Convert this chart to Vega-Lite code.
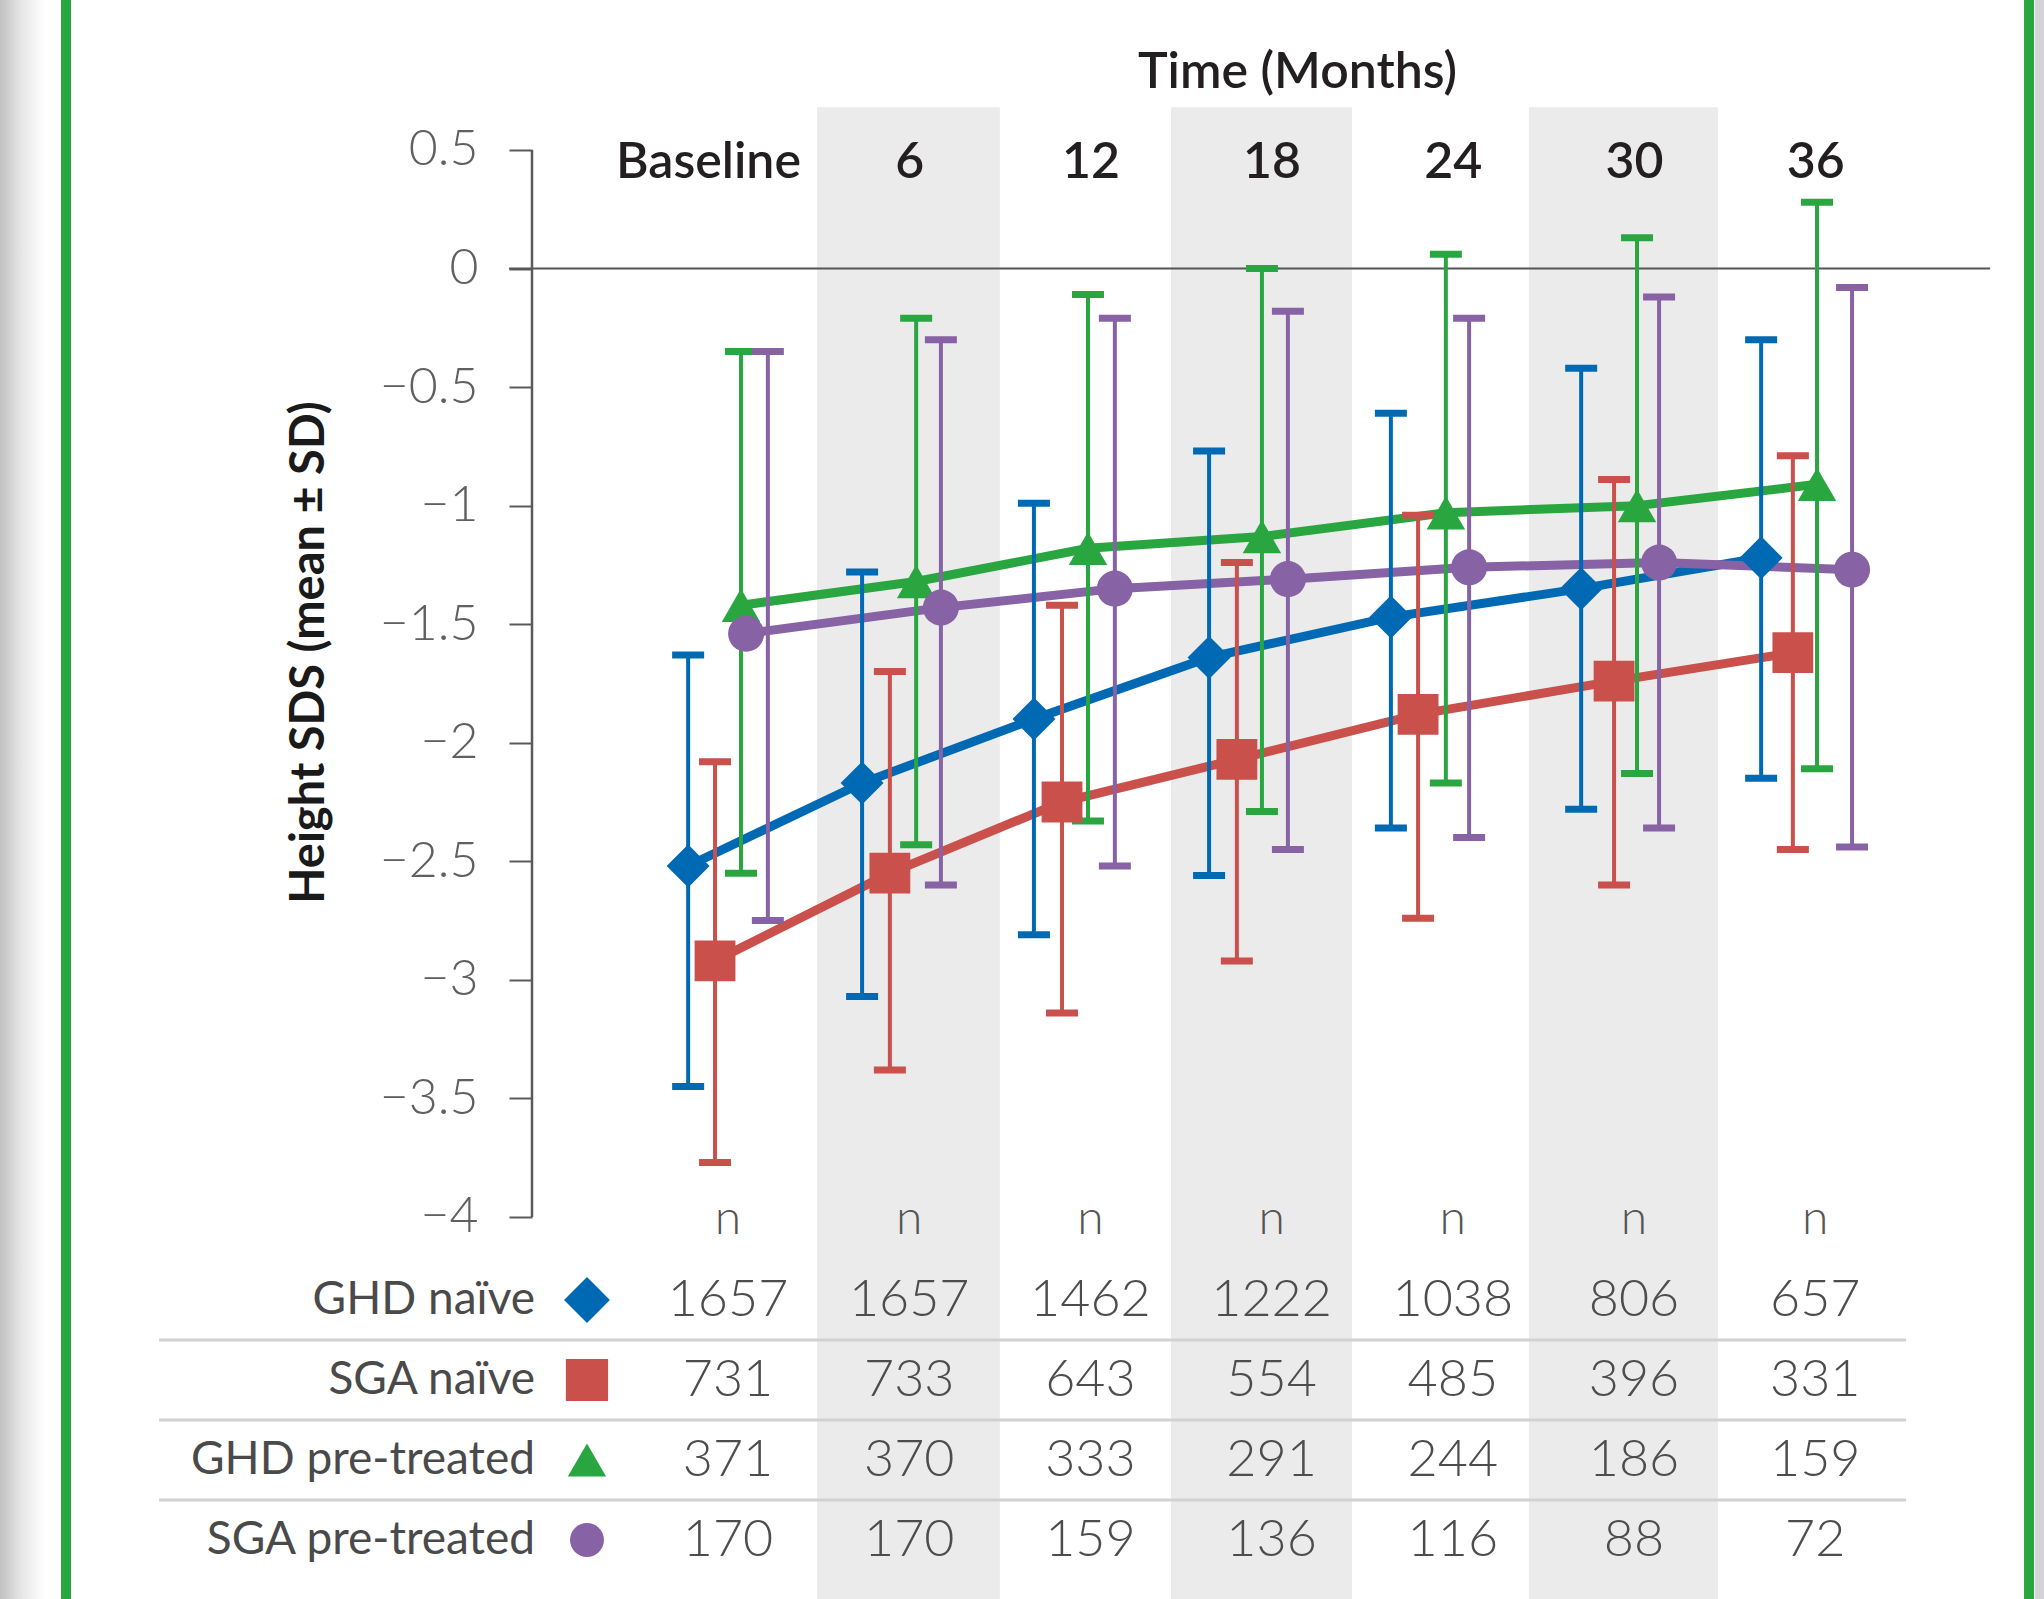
{
  "$schema": "https://vega.github.io/schema/vega-lite/v6.json",
  "width": 2044,
  "height": 1599,
  "autosize": "none",
  "padding": 0,
  "background": "#ffffff",
  "config": {"view": {"stroke": null}, "font": "Lato"},
  "datasets": {
    "series": [
      {"series": "GHD naïve", "month": 0, "t": -1.32, "tp": -1.32, "mean": -2.52, "lo": -3.45, "hi": -1.63},
      {"series": "GHD naïve", "month": 6, "t": 4.44, "tp": 4.44, "mean": -2.17, "lo": -3.07, "hi": -1.28},
      {"series": "GHD naïve", "month": 12, "t": 10.13, "tp": 10.13, "mean": -1.9, "lo": -2.81, "hi": -0.99},
      {"series": "GHD naïve", "month": 18, "t": 15.93, "tp": 15.93, "mean": -1.64, "lo": -2.56, "hi": -0.77},
      {"series": "GHD naïve", "month": 24, "t": 21.95, "tp": 21.95, "mean": -1.47, "lo": -2.36, "hi": -0.61},
      {"series": "GHD naïve", "month": 30, "t": 28.25, "tp": 28.25, "mean": -1.35, "lo": -2.28, "hi": -0.42},
      {"series": "GHD naïve", "month": 36, "t": 34.21, "tp": 34.21, "mean": -1.22, "lo": -2.15, "hi": -0.3},
      {"series": "SGA naïve", "month": 0, "t": -0.43, "tp": -0.43, "mean": -2.92, "lo": -3.77, "hi": -2.08},
      {"series": "SGA naïve", "month": 6, "t": 5.36, "tp": 5.36, "mean": -2.55, "lo": -3.38, "hi": -1.7},
      {"series": "SGA naïve", "month": 12, "t": 11.06, "tp": 11.06, "mean": -2.25, "lo": -3.14, "hi": -1.42},
      {"series": "SGA naïve", "month": 18, "t": 16.85, "tp": 16.85, "mean": -2.07, "lo": -2.92, "hi": -1.24},
      {"series": "SGA naïve", "month": 24, "t": 22.85, "tp": 22.85, "mean": -1.88, "lo": -2.74, "hi": -1.04},
      {"series": "SGA naïve", "month": 30, "t": 29.34, "tp": 29.34, "mean": -1.74, "lo": -2.6, "hi": -0.89},
      {"series": "SGA naïve", "month": 36, "t": 35.26, "tp": 35.26, "mean": -1.62, "lo": -2.45, "hi": -0.79},
      {"series": "GHD pre-treated", "month": 0, "t": 0.43, "tp": 0.43, "mean": -1.42, "lo": -2.55, "hi": -0.35},
      {"series": "GHD pre-treated", "month": 6, "t": 6.23, "tp": 6.23, "mean": -1.32, "lo": -2.43, "hi": -0.21},
      {"series": "GHD pre-treated", "month": 12, "t": 11.92, "tp": 11.92, "mean": -1.18, "lo": -2.33, "hi": -0.11},
      {"series": "GHD pre-treated", "month": 18, "t": 17.68, "tp": 17.68, "mean": -1.13, "lo": -2.29, "hi": 0.0},
      {"series": "GHD pre-treated", "month": 24, "t": 23.77, "tp": 23.77, "mean": -1.03, "lo": -2.17, "hi": 0.06},
      {"series": "GHD pre-treated", "month": 30, "t": 30.1, "tp": 30.1, "mean": -1.0, "lo": -2.13, "hi": 0.13},
      {"series": "GHD pre-treated", "month": 36, "t": 36.06, "tp": 36.06, "mean": -0.91, "lo": -2.11, "hi": 0.28},
      {"series": "SGA pre-treated", "month": 0, "t": 1.32, "tp": 0.6, "mean": -1.54, "lo": -2.75, "hi": -0.35},
      {"series": "SGA pre-treated", "month": 6, "t": 7.05, "tp": 7.05, "mean": -1.43, "lo": -2.6, "hi": -0.3},
      {"series": "SGA pre-treated", "month": 12, "t": 12.81, "tp": 12.81, "mean": -1.35, "lo": -2.52, "hi": -0.21},
      {"series": "SGA pre-treated", "month": 18, "t": 18.54, "tp": 18.54, "mean": -1.31, "lo": -2.45, "hi": -0.18},
      {"series": "SGA pre-treated", "month": 24, "t": 24.54, "tp": 24.54, "mean": -1.26, "lo": -2.4, "hi": -0.21},
      {"series": "SGA pre-treated", "month": 30, "t": 30.83, "tp": 30.83, "mean": -1.24, "lo": -2.36, "hi": -0.12},
      {"series": "SGA pre-treated", "month": 36, "t": 37.22, "tp": 37.22, "mean": -1.27, "lo": -2.44, "hi": -0.08}
    ],
    "bands": [
      {"month": 6, "t0": 2.95, "t1": 9.0},
      {"month": 18, "t0": 14.67, "t1": 20.66},
      {"month": 30, "t0": 26.52, "t1": 32.78}
    ],
    "counts": [
      {"series": "GHD naïve", "r": 1, "month": 0, "n": 1657},
      {"series": "GHD naïve", "r": 1, "month": 6, "n": 1657},
      {"series": "GHD naïve", "r": 1, "month": 12, "n": 1462},
      {"series": "GHD naïve", "r": 1, "month": 18, "n": 1222},
      {"series": "GHD naïve", "r": 1, "month": 24, "n": 1038},
      {"series": "GHD naïve", "r": 1, "month": 30, "n": 806},
      {"series": "GHD naïve", "r": 1, "month": 36, "n": 657},
      {"series": "SGA naïve", "r": 2, "month": 0, "n": 731},
      {"series": "SGA naïve", "r": 2, "month": 6, "n": 733},
      {"series": "SGA naïve", "r": 2, "month": 12, "n": 643},
      {"series": "SGA naïve", "r": 2, "month": 18, "n": 554},
      {"series": "SGA naïve", "r": 2, "month": 24, "n": 485},
      {"series": "SGA naïve", "r": 2, "month": 30, "n": 396},
      {"series": "SGA naïve", "r": 2, "month": 36, "n": 331},
      {"series": "GHD pre-treated", "r": 3, "month": 0, "n": 371},
      {"series": "GHD pre-treated", "r": 3, "month": 6, "n": 370},
      {"series": "GHD pre-treated", "r": 3, "month": 12, "n": 333},
      {"series": "GHD pre-treated", "r": 3, "month": 18, "n": 291},
      {"series": "GHD pre-treated", "r": 3, "month": 24, "n": 244},
      {"series": "GHD pre-treated", "r": 3, "month": 30, "n": 186},
      {"series": "GHD pre-treated", "r": 3, "month": 36, "n": 159},
      {"series": "SGA pre-treated", "r": 4, "month": 0, "n": 170},
      {"series": "SGA pre-treated", "r": 4, "month": 6, "n": 170},
      {"series": "SGA pre-treated", "r": 4, "month": 12, "n": 159},
      {"series": "SGA pre-treated", "r": 4, "month": 18, "n": 136},
      {"series": "SGA pre-treated", "r": 4, "month": 24, "n": 116},
      {"series": "SGA pre-treated", "r": 4, "month": 30, "n": 88},
      {"series": "SGA pre-treated", "r": 4, "month": 36, "n": 72}
    ],
    "nrow": [
      {"month": 0, "r": 0, "label": "n"},
      {"month": 6, "r": 0, "label": "n"},
      {"month": 12, "r": 0, "label": "n"},
      {"month": 18, "r": 0, "label": "n"},
      {"month": 24, "r": 0, "label": "n"},
      {"month": 30, "r": 0, "label": "n"},
      {"month": 36, "r": 0, "label": "n"}
    ],
    "rows": [
      {"series": "GHD naïve", "r": 1},
      {"series": "SGA naïve", "r": 2},
      {"series": "GHD pre-treated", "r": 3},
      {"series": "SGA pre-treated", "r": 4}
    ],
    "seps": [{"r": 1.5}, {"r": 2.5}, {"r": 3.5}],
    "frame": [{"t": -21.92}, {"t": 43.08}]
  },
  "layer": [
    {
      "layer": [
        {
          "data": {"name": "bands"},
          "mark": {"type": "rect", "color": "#ebebeb"},
          "encoding": {
            "x": {
              "field": "t0", "type": "quantitative",
              "scale": {"domain": [-24.106, 43.576], "nice": false, "zero": false},
              "axis": {
                "orient": "top", "offset": -177, "values": [0, 6, 12, 18, 24, 30, 36], "zindex": 1,
                "labelExpr": "datum.value === 0 ? 'Baseline' : datum.label",
                "labelOffset": {"condition": {"test": "datum.value === 0", "value": -20}, "value": 0},
                "domain": false, "ticks": false, "tickSize": 0, "grid": false, "labelLimit": 0,
                "labelPadding": 0, "labelBaseline": "alphabetic", "labelFlush": false, "labelOverlap": false,
                "labelFont": "Lato", "labelFontSize": 50, "labelFontWeight": 600, "labelColor": "#231f20",
                "title": "Time (Months)", "titleX": 1297, "titleY": -90, "titleAlign": "center",
                "titleBaseline": "alphabetic", "titleAnchor": null, "titleFont": "Lato", "titleFontSize": 50,
                "titleFontWeight": 600, "titleColor": "#231f20"
              }
            },
            "x2": {"field": "t1"},
            "y": {
              "datum": 0.68, "type": "quantitative",
              "scale": {"domain": [-5.6113, 1.1326], "nice": false, "zero": false},
              "axis": {
                "orient": "left", "offset": -532, "zindex": 1,
                "values": [-4, -3.5, -3, -2.5, -2, -1.5, -1, -0.5, 0, 0.5],
                "format": "~g", "domain": false, "grid": false,
                "tickSize": 23, "tickWidth": 2, "tickColor": "#5a5a5a",
                "labelPadding": 31, "labelFont": "Lato", "labelFontWeight": 300, "labelFontSize": 50,
                "labelColor": "#606060", "labelBaseline": "middle", "labelOverlap": false, "labelFlush": false,
                "title": "Height SDS (mean ± SD)", "titleX": -223, "titleY": 652, "titleAngle": -90,
                "titleAlign": "center", "titleBaseline": "middle", "titleAnchor": null,
                "titleFont": "Lato", "titleFontWeight": 700, "titleFontSize": 47, "titleColor": "#1a1a1a"
              }
            },
            "y2": {"datum": -5.6113}
          }
        },
        {
          "data": {"values": [{}]},
          "mark": {
            "type": "rect",
            "color": {"gradient": "linear", "x1": 0, "x2": 1, "y1": 0, "y2": 0,
              "stops": [{"offset": 0, "color": "#c0c0c0"}, {"offset": 0.5, "color": "#e8e8e8"}, {"offset": 1, "color": "#ffffff"}]}
          },
          "encoding": {
            "x": {"datum": -24.106, "type": "quantitative", "scale": {"domain": [-24.106, 43.576], "nice": false, "zero": false}},
            "x2": {"datum": -22.62}
          }
        },
        {
          "data": {"values": [{}]},
          "mark": {"type": "rect", "color": "#d4d4d4"},
          "encoding": {
            "x": {"datum": 43.28, "type": "quantitative", "scale": {"domain": [-24.106, 43.576], "nice": false, "zero": false}},
            "x2": {"datum": 43.576}
          }
        },
        {
          "data": {"name": "frame"},
          "mark": {"type": "rule", "color": "#2aa640", "strokeWidth": 10},
          "encoding": {
            "x": {"field": "t", "type": "quantitative", "scale": {"domain": [-24.106, 43.576], "nice": false, "zero": false}}
          }
        },
        {
          "data": {"values": [{}]},
          "mark": {"type": "rule", "color": "#555555", "strokeWidth": 2},
          "encoding": {
            "x": {"datum": -7.25, "type": "quantitative", "scale": {"domain": [-24.106, 43.576], "nice": false, "zero": false}},
            "x2": {"datum": 41.79},
            "y": {"datum": 0, "type": "quantitative", "scale": {"domain": [-5.6113, 1.1326], "nice": false, "zero": false}}
          }
        },
        {
          "data": {"values": [{}]},
          "mark": {"type": "rule", "color": "#5a5a5a", "strokeWidth": 2.5},
          "encoding": {
            "x": {"datum": -6.49, "type": "quantitative", "scale": {"domain": [-24.106, 43.576], "nice": false, "zero": false}},
            "y": {"datum": -4, "type": "quantitative", "scale": {"domain": [-5.6113, 1.1326], "nice": false, "zero": false}},
            "y2": {"datum": 0.5}
          }
        },
        {
          "data": {"name": "series"},
          "mark": {"type": "line", "strokeWidth": 9},
          "encoding": {
            "x": {"field": "tp", "type": "quantitative", "scale": {"domain": [-24.106, 43.576], "nice": false, "zero": false}},
            "y": {"field": "mean", "type": "quantitative", "scale": {"domain": [-5.6113, 1.1326], "nice": false, "zero": false}},
            "color": {"field": "series", "type": "nominal",
              "scale": {"domain": ["GHD naïve", "SGA naïve", "GHD pre-treated", "SGA pre-treated"], "range": ["#0069b4", "#c9504b", "#2aa640", "#8762a4"]},
              "legend": null}
          }
        },
        {
          "data": {"name": "series"},
          "mark": {"type": "rule", "strokeWidth": 4},
          "encoding": {
            "x": {"field": "t", "type": "quantitative", "scale": {"domain": [-24.106, 43.576], "nice": false, "zero": false}},
            "y": {"field": "lo", "type": "quantitative", "scale": {"domain": [-5.6113, 1.1326], "nice": false, "zero": false}},
            "y2": {"field": "hi"},
            "color": {"field": "series", "type": "nominal", "legend": null}
          }
        },
        {
          "data": {"name": "series"},
          "mark": {"type": "tick", "orient": "horizontal", "size": 32, "thickness": 7, "opacity": 1},
          "encoding": {
            "x": {"field": "t", "type": "quantitative", "scale": {"domain": [-24.106, 43.576], "nice": false, "zero": false}},
            "y": {"field": "lo", "type": "quantitative", "scale": {"domain": [-5.6113, 1.1326], "nice": false, "zero": false}},
            "color": {"field": "series", "type": "nominal", "legend": null}
          }
        },
        {
          "data": {"name": "series"},
          "mark": {"type": "tick", "orient": "horizontal", "size": 32, "thickness": 7, "opacity": 1},
          "encoding": {
            "x": {"field": "t", "type": "quantitative", "scale": {"domain": [-24.106, 43.576], "nice": false, "zero": false}},
            "y": {"field": "hi", "type": "quantitative", "scale": {"domain": [-5.6113, 1.1326], "nice": false, "zero": false}},
            "color": {"field": "series", "type": "nominal", "legend": null}
          }
        },
        {
          "data": {"name": "series"},
          "mark": {"type": "point", "filled": true, "opacity": 1},
          "encoding": {
            "x": {"field": "tp", "type": "quantitative", "scale": {"domain": [-24.106, 43.576], "nice": false, "zero": false}},
            "y": {"field": "mean", "type": "quantitative", "scale": {"domain": [-5.6113, 1.1326], "nice": false, "zero": false}},
            "color": {"field": "series", "type": "nominal", "legend": null},
            "shape": {"field": "series", "type": "nominal",
              "scale": {"domain": ["GHD naïve", "SGA naïve", "GHD pre-treated", "SGA pre-treated"], "range": ["diamond", "square", "triangle-up", "circle"]},
              "legend": null},
            "size": {"field": "series", "type": "nominal",
              "scale": {"domain": ["GHD naïve", "SGA naïve", "GHD pre-treated", "SGA pre-treated"], "range": [1850, 1300, 1900, 1100]},
              "legend": null}
          }
        }
      ]
    },
    {
      "layer": [
        {
          "data": {"name": "seps"},
          "mark": {"type": "rule", "color": "#d2d2d2", "strokeWidth": 3},
          "encoding": {
            "x": {"datum": -18.84, "type": "quantitative", "scale": {"domain": [-24.106, 43.576], "nice": false, "zero": false}},
            "x2": {"datum": 39.01},
            "y": {"field": "r", "type": "quantitative", "scale": {"domain": [-15.25, 4.7375], "reverse": true, "nice": false, "zero": false}, "axis": null}
          }
        },
        {
          "data": {"name": "nrow"},
          "mark": {"type": "text", "font": "Lato", "fontWeight": 300, "fontSize": 48, "color": "#555555", "baseline": "middle", "align": "center"},
          "encoding": {
            "x": {"field": "month", "type": "quantitative", "scale": {"domain": [-24.106, 43.576], "nice": false, "zero": false}},
            "y": {"field": "r", "type": "quantitative", "scale": {"domain": [-15.25, 4.7375], "reverse": true, "nice": false, "zero": false}, "axis": null},
            "text": {"field": "label"}
          }
        },
        {
          "data": {"name": "counts"},
          "mark": {"type": "text", "font": "Lato", "fontWeight": 300, "fontSize": 52, "color": "#4d4d4d", "baseline": "middle", "align": "center"},
          "encoding": {
            "x": {"field": "month", "type": "quantitative", "scale": {"domain": [-24.106, 43.576], "nice": false, "zero": false}},
            "y": {"field": "r", "type": "quantitative", "scale": {"domain": [-15.25, 4.7375], "reverse": true, "nice": false, "zero": false}, "axis": null},
            "text": {"field": "n"}
          }
        },
        {
          "data": {"name": "rows"},
          "mark": {"type": "text", "font": "Lato", "fontWeight": 400, "fontSize": 46, "color": "#4a4a4a", "baseline": "middle", "align": "right"},
          "encoding": {
            "x": {"datum": -6.39, "type": "quantitative", "scale": {"domain": [-24.106, 43.576], "nice": false, "zero": false}},
            "y": {"field": "r", "type": "quantitative", "scale": {"domain": [-15.25, 4.7375], "reverse": true, "nice": false, "zero": false}, "axis": null},
            "text": {"field": "series"}
          }
        },
        {
          "data": {"name": "rows"},
          "mark": {"type": "point", "filled": true, "opacity": 1},
          "encoding": {
            "x": {"datum": -4.67, "type": "quantitative", "scale": {"domain": [-24.106, 43.576], "nice": false, "zero": false}},
            "y": {"field": "r", "type": "quantitative", "scale": {"domain": [-15.25, 4.7375], "reverse": true, "nice": false, "zero": false}, "axis": null},
            "color": {"field": "series", "type": "nominal", "legend": null},
            "shape": {"field": "series", "type": "nominal", "legend": null},
            "size": {"field": "series", "type": "nominal",
              "scale": {"domain": ["GHD naïve", "SGA naïve", "GHD pre-treated", "SGA pre-treated"], "range": [2100, 1150, 2000, 1300]},
              "legend": null}
          }
        }
      ]
    }
  ],
  "resolve": {"scale": {"y": "independent", "size": "independent"}}
}
